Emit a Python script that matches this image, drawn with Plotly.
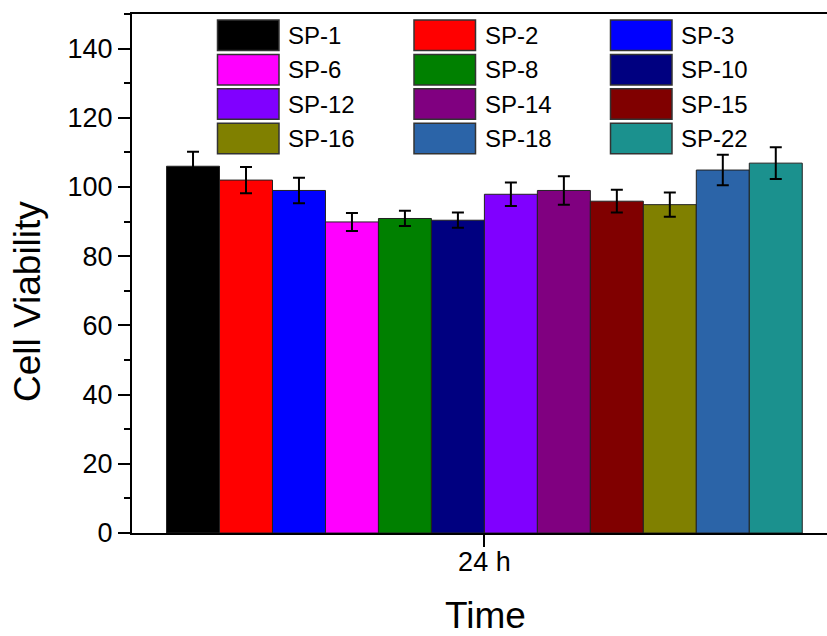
import plotly.graph_objects as go

# ---- data ----
categories = ["24 h"]
names = ["SP-1", "SP-2", "SP-3", "SP-6", "SP-8", "SP-10",
         "SP-12", "SP-14", "SP-15", "SP-16", "SP-18", "SP-22"]
values = [106.0, 102.0, 99.0, 89.9, 90.9, 90.4, 97.9, 99.0, 95.9, 94.9, 104.9, 106.9]
errors = [4.2, 3.8, 3.7, 2.6, 2.2, 2.2, 3.4, 4.1, 3.3, 3.5, 4.4, 4.6]
colors = ["#000000", "#FF0000", "#0000FF", "#FF00FF", "#008000", "#000080",
          "#8000FF", "#800080", "#800000", "#808000", "#2B64A8", "#1B918E"]
y_ticks = [0, 20, 40, 60, 80, 100, 120, 140]

W, H = 827, 636
ML, MR, MT, MB = 132, 0, 14, 103
PW, PH = W - ML - MR, H - MT - MB
FONT = "Arial, Liberation Sans, sans-serif"


def px_x(px):
    return (px - ML) / PW


def px_y(py):
    return (H - MB - py) / PH


fig = go.Figure()
for n, v, e, c in zip(names, values, errors, colors):
    fig.add_trace(go.Bar(
        x=categories, y=[v], name=n,
        marker=dict(color=c, line=dict(color="#222222", width=1)),
        error_y=dict(type="data", array=[e], color="black", thickness=2, width=6),
        showlegend=False,
    ))

# custom legend with large swatches
col_x = [217.5, 414.0, 610.5]
row_y0 = 20.0
row_pitch = 34.4
sw_w, sw_h = 61.5, 30.5
shapes = []
annotations = []
for i, (n, c) in enumerate(zip(names, colors)):
    r, k = divmod(i, 3)
    x0 = col_x[k]
    y0 = row_y0 + r * row_pitch
    shapes.append(dict(type="rect", xref="paper", yref="paper",
                       x0=px_x(x0), x1=px_x(x0 + sw_w),
                       y0=px_y(y0 + sw_h), y1=px_y(y0),
                       fillcolor=c, line=dict(color="#333333", width=1.5), layer="above"))
    annotations.append(dict(xref="paper", yref="paper", x=px_x(x0 + sw_w + 7),
                            y=px_y(y0 + sw_h / 2), text=n, showarrow=False,
                            xanchor="left", yanchor="middle",
                            font=dict(family=FONT, size=24, color="black")))

annotations.append(dict(xref="paper", yref="paper", x=px_x(485), y=px_y(615),
                        text="Time", showarrow=False, xanchor="center", yanchor="middle",
                        font=dict(family=FONT, size=37, color="black")))
annotations.append(dict(xref="paper", yref="paper", x=px_x(28), y=px_y(302),
                        text="Cell Viability", showarrow=False, textangle=-90,
                        xanchor="center", yanchor="middle",
                        font=dict(family=FONT, size=37, color="black")))

fig.update_layout(
    width=W, height=H,
    margin=dict(l=ML, r=MR, t=MT, b=MB, autoexpand=False),
    paper_bgcolor="white", plot_bgcolor="white",
    barmode="group", bargap=0.098, bargroupgap=0,
    shapes=shapes, annotations=annotations,
    font=dict(family=FONT, color="black"),
    xaxis=dict(type="category", range=[-0.5, (W - ML) / (484.4 - ML) * 0.5 - 0.5],
               showline=True, linecolor="black", linewidth=2, mirror=True,
               ticks="outside", ticklen=12, tickwidth=2, tickcolor="black",
               ticklabelstandoff=-8,
               tickfont=dict(family=FONT, size=27, color="black"), showgrid=False),
    yaxis=dict(range=[0, 150], tickvals=y_ticks, ticks="outside", ticklen=12,
               tickwidth=2, tickcolor="black",
               minor=dict(dtick=10, tick0=0, ticks="outside", ticklen=6,
                          tickwidth=2, tickcolor="black"),
               showline=True, linecolor="black", linewidth=2, zeroline=False,
               showgrid=False, tickfont=dict(family=FONT, size=27, color="black")),
)

fig.write_html("out.html")
